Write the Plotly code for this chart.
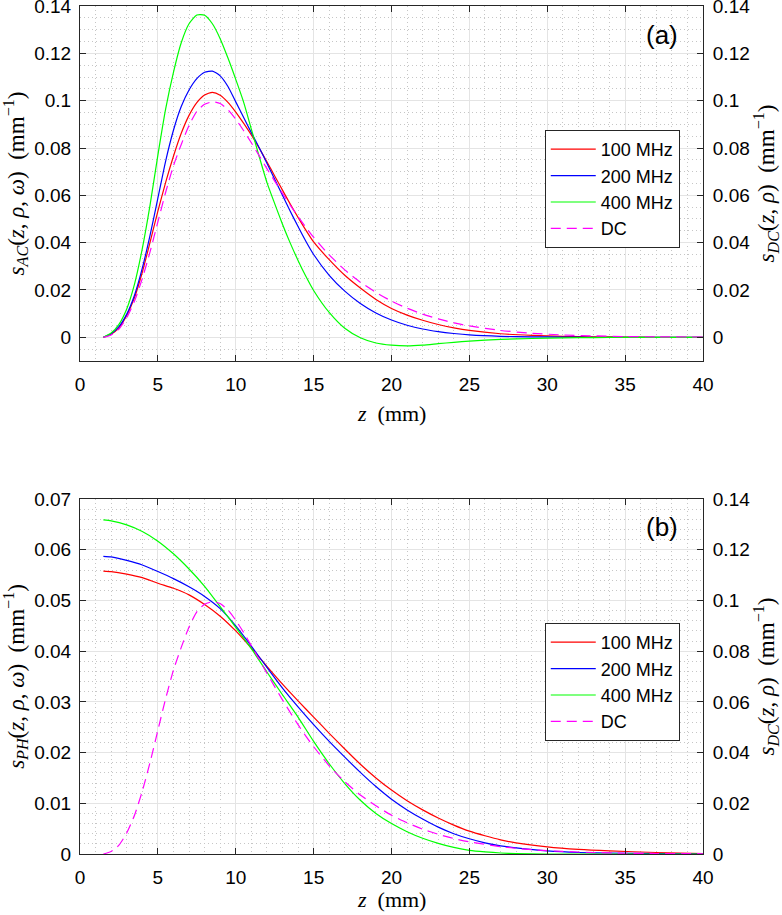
import plotly.graph_objects as go

# ---------------- data ----------------
z_top = [1.5, 2, 2.5, 3, 3.5, 4, 4.5, 5, 5.5, 6, 6.5, 7, 7.5, 8, 8.5, 9, 9.5, 10, 10.5, 11,
         11.5, 12, 12.5, 13, 13.5, 14, 14.5, 15, 16, 17, 18, 19, 20, 21, 22, 23, 24, 25,
         27, 29, 31, 33, 35, 37, 40]

sac_100 = [0, 0.0013, 0.004, 0.0092, 0.0168, 0.0275, 0.0402, 0.0533, 0.0655, 0.0765, 0.0862,
           0.0938, 0.0992, 0.1024, 0.1035, 0.1023, 0.0993, 0.0952, 0.0905, 0.0855, 0.0800,
           0.0742, 0.0682, 0.0622, 0.0563, 0.0507, 0.0453, 0.0403, 0.0328, 0.0262, 0.0208,
           0.0160, 0.0122, 0.0094, 0.0072, 0.0054, 0.0040, 0.0029, 0.0015, 0.0008, 0.0004,
           0.0002, 0.0001, 0, 0]
sac_200 = [0, 0.0015, 0.0045, 0.0098, 0.0178, 0.0292, 0.0432, 0.0588, 0.0745, 0.0875, 0.0975,
           0.1045, 0.1093, 0.1120, 0.1125, 0.1105, 0.1060, 0.0995, 0.0930, 0.0865, 0.0802,
           0.0736, 0.0668, 0.0600, 0.0533, 0.0468, 0.0406, 0.0350, 0.0262, 0.0195, 0.0143,
           0.0103, 0.0073, 0.0051, 0.0035, 0.0024, 0.0016, 0.0010, 0.0004, 0.0002, 0.0001,
           0, 0, 0, 0]
sac_400 = [0, 0.0018, 0.0055, 0.012, 0.0225, 0.0375, 0.056, 0.077, 0.0965, 0.112, 0.1245,
           0.1325, 0.1362, 0.1361, 0.1325, 0.1262, 0.118, 0.109, 0.0995, 0.088, 0.0765,
           0.0655, 0.0565, 0.0478, 0.0398, 0.0325, 0.0258, 0.0198, 0.0105, 0.0038, -0.0002,
           -0.0024, -0.0033, -0.0036, -0.0033, -0.0027, -0.0021, -0.0016, -0.0009, -0.0005,
           -0.0002, -0.0001, 0, 0, 0]
s_dc = [0, 0.001, 0.0035, 0.0083, 0.0153, 0.0248, 0.0362, 0.0488, 0.0613, 0.0725, 0.0815,
        0.0895, 0.0955, 0.0985, 0.0995, 0.0988, 0.0962, 0.0922, 0.0874, 0.0822, 0.0768,
        0.0713, 0.0660, 0.0608, 0.0558, 0.0510, 0.0465, 0.0423, 0.0348, 0.0285, 0.0233,
        0.0190, 0.0153, 0.0123, 0.0098, 0.0078, 0.0061, 0.0048, 0.0029, 0.0017, 0.0010,
        0.0006, 0.0003, 0.0002, 0.0001]

z_bot = [1.5, 2, 3, 4, 5, 6, 7, 8, 9, 10, 11, 12, 13, 14, 15, 16, 17, 18, 19, 20, 21, 22,
         23, 24, 25, 26, 27, 28, 30, 32, 34, 37, 40]
sph_100 = [0.0558, 0.0557, 0.0552, 0.0545, 0.0534, 0.0524, 0.0511, 0.0492, 0.0469, 0.0440,
           0.0406, 0.0370, 0.0335, 0.0302, 0.0270, 0.0238, 0.0207, 0.0177, 0.0150, 0.0126,
           0.0105, 0.0087, 0.0071, 0.0057, 0.0045, 0.0036, 0.0028, 0.0022, 0.0014, 0.0009,
           0.0006, 0.0003, 0.0001]
sph_200 = [0.0587, 0.0586, 0.0579, 0.0570, 0.0557, 0.0543, 0.0527, 0.0508, 0.0484, 0.0450,
           0.0410, 0.0368, 0.0327, 0.0290, 0.0255, 0.0222, 0.0191, 0.0161, 0.0133, 0.0108,
           0.0087, 0.0069, 0.0053, 0.0040, 0.0030, 0.0022, 0.0016, 0.0012, 0.0006, 0.0003,
           0.0002, 0.0001, 0]
sph_400 = [0.0659, 0.0657, 0.0649, 0.0636, 0.0617, 0.0592, 0.0562, 0.0528, 0.0488, 0.0447,
           0.0405, 0.0359, 0.0314, 0.0270, 0.0222, 0.0178, 0.0139, 0.0106, 0.0080, 0.0060,
           0.0044, 0.0031, 0.0021, 0.0013, 0.0007, 0.0004, 0.0002, 0.0001, 0, 0, 0, 0, 0]

series_names = ["100 MHz", "200 MHz", "400 MHz", "DC"]
series_colors = ["#ff0000", "#0000ff", "#00ff00", "#ff00ff"]

x_ticks = [0, 5, 10, 15, 20, 25, 30, 35, 40]
y14_ticks = [0, 0.02, 0.04, 0.06, 0.08, 0.1, 0.12, 0.14]
y14_text = ["0", "0.02", "0.04", "0.06", "0.08", "0.1", "0.12", "0.14"]
y07_ticks = [0, 0.01, 0.02, 0.03, 0.04, 0.05, 0.06, 0.07]
y07_text = ["0", "0.01", "0.02", "0.03", "0.04", "0.05", "0.06", "0.07"]

# ---------------- figure ----------------
fig = go.Figure()
LW = 1.2

top_sets = [sac_100, sac_200, sac_400]
for name, col, ys in zip(series_names[:3], series_colors[:3], top_sets):
    fig.add_trace(go.Scatter(x=z_top, y=ys, name=name, mode="lines",
                             line=dict(color=col, width=LW, shape="spline", smoothing=0.6),
                             xaxis="x", yaxis="y", legend="legend"))
fig.add_trace(go.Scatter(x=z_top, y=s_dc, name="DC", mode="lines",
                         line=dict(color=series_colors[3], width=LW, dash="10px,6px",
                                   shape="spline", smoothing=0.6),
                         xaxis="x", yaxis="y2", legend="legend"))

bot_sets = [sph_100, sph_200, sph_400]
for name, col, ys in zip(series_names[:3], series_colors[:3], bot_sets):
    fig.add_trace(go.Scatter(x=z_bot, y=ys, name=name, mode="lines",
                             line=dict(color=col, width=LW, shape="spline", smoothing=0.6),
                             xaxis="x2", yaxis="y3", legend="legend2"))
fig.add_trace(go.Scatter(x=z_top, y=s_dc, name="DC", mode="lines",
                         line=dict(color=series_colors[3], width=LW, dash="10px,6px",
                                   shape="spline", smoothing=0.6),
                         xaxis="x2", yaxis="y4", legend="legend2"))

AX = "#262626"
GRID = "#e4e4e4"
MINOR = "#c6c6c6"
SANS = "Liberation Sans, Arial, sans-serif"
SERIF = "Liberation Serif, DejaVu Serif, serif"
tickfont = dict(family=SANS, size=19, color="black")
ytitlefont = dict(family=SERIF, size=23, color="black")
xtitlefont = dict(family=SERIF, size=22, color="black")

def xax(anchor):
    return dict(anchor=anchor, domain=[0, 1], range=[0, 40], tickvals=x_ticks,
                ticks="inside", ticklen=6, tickcolor=AX, showline=True, linecolor=AX,
                linewidth=1, mirror="ticks", showgrid=True, gridcolor=GRID, gridwidth=1,
                zeroline=False, tickfont=tickfont, automargin=False, ticklabelstandoff=6,
                ticklabeloverflow="allow",
                minor=dict(dtick=1, tick0=0, showgrid=True, gridcolor=MINOR,
                           griddash="1px,3px", gridwidth=1, ticks=""))

def yleft(dom, rng, tv, tt, minor_dt, title):
    return dict(anchor=dom[0], domain=dom[1], range=rng, tickvals=tv, ticktext=tt,
                ticks="inside", ticklen=6, tickcolor=AX, showline=True, linecolor=AX,
                linewidth=1, showgrid=True, gridcolor=GRID, gridwidth=1, zeroline=False,
                tickfont=tickfont, automargin=False, ticklabelstandoff=4,
                ticklabeloverflow="allow",
                minor=dict(dtick=minor_dt, tick0=0, showgrid=True, gridcolor=MINOR,
                           griddash="1px,3px", gridwidth=1, ticks=""),
                title=dict(text=title, font=ytitlefont, standoff=5))

def yright(anchor, over, rng, tv, tt, title):
    return dict(anchor=anchor, overlaying=over, side="right", range=rng, tickvals=tv,
                ticktext=tt, ticks="inside", ticklen=6, tickcolor=AX, showline=True,
                linecolor=AX, linewidth=1, showgrid=False, zeroline=False,
                tickfont=tickfont, automargin=False, ticklabelstandoff=5,
                ticklabeloverflow="allow",
                title=dict(text=title, font=ytitlefont, standoff=3))

top_dom = [0.5814, 1.0]
bot_dom = [0.0, 0.4186]

t_ac = "<i>s</i><sub><i>AC</i></sub>(<i>z</i>, <i>ρ</i>, <i>ω</i>)  (mm<sup>−1</sup>)"
t_ph = "<i>s</i><sub><i>PH</i></sub>(<i>z</i>, <i>ρ</i>, <i>ω</i>)  (mm<sup>−1</sup>)"
t_dc = "<i>s</i><sub><i>DC</i></sub>(<i>z</i>, <i>ρ</i>)  (mm<sup>−1</sup>)"
t_z = "<i>z</i>  (mm)"

legend_common = dict(xanchor="left", yanchor="top", bgcolor="white",
                     bordercolor=AX, borderwidth=1, itemwidth=45, tracegroupgap=0,
                     font=dict(family=SANS, size=18, color="black"))

fig.update_layout(
    template="none",
    width=782, height=915,
    margin=dict(l=80, r=79, t=6, b=61, autoexpand=False),
    paper_bgcolor="white", plot_bgcolor="white",
    showlegend=True,
    xaxis=xax("y"),
    xaxis2=xax("y3"),
    yaxis=yleft(("x", top_dom), [-0.01, 0.14001], y14_ticks, y14_text, 0.005, t_ac),
    yaxis2=yright("x", "y", [-0.01, 0.14001], y14_ticks, y14_text, t_dc),
    yaxis3=yleft(("x2", bot_dom), [0, 0.070005], y07_ticks, y07_text, 0.002, t_ph),
    yaxis4=yright("x2", "y3", [0, 0.14001], y14_ticks, y14_text, t_dc),
    legend=dict(x=0.746, y=0.8538, **legend_common),
    legend2=dict(x=0.746, y=0.2724, **legend_common),
    annotations=[
        dict(text="(a)", xref="paper", yref="paper", x=0.934, y=0.966, showarrow=False,
             xanchor="center", yanchor="middle",
             font=dict(family=SANS, size=26, color="black")),
        dict(text="(b)", xref="paper", yref="paper", x=0.934, y=0.3860, showarrow=False,
             xanchor="center", yanchor="middle",
             font=dict(family=SANS, size=26, color="black")),
        dict(text=t_z, xref="paper", yref="paper", x=0.5, y=0.519, showarrow=False,
             xanchor="center", yanchor="middle", font=xtitlefont),
        dict(text=t_z, xref="paper", yref="paper", x=0.5, y=-0.0535, showarrow=False,
             xanchor="center", yanchor="middle", font=xtitlefont),
    ],
)

fig.write_html("out.html", config={"displayModeBar": False},
               post_script="document.body.style.margin='0';")
